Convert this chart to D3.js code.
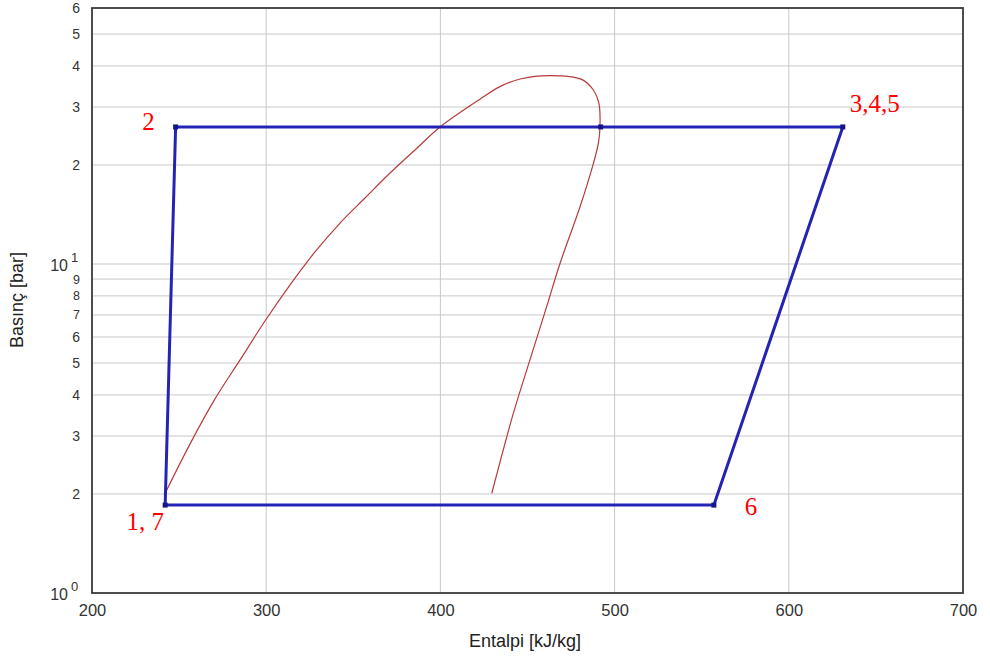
<!DOCTYPE html>
<html>
<head>
<meta charset="utf-8">
<script src="https://cdn.jsdelivr.net/npm/d3@7"></script>
<style>
  body { margin: 0; background: #fff; }
</style>
</head>
<body>
<script>
"use strict";

// saturation dome (enthalpy kJ/kg, pressure bar)
const domeH = [242, 256.3, 270.6, 285, 299.3, 313.7, 328, 342.4, 356.7, 371.1, 385.4, 399.8, 422.7, 434.2, 445.7, 462.9, 481.1, 487.8, 491, 491.6, 490.7, 487.8, 480.1, 468.7, 461, 451.4, 441.9, 429.5]
const domeP = [2.01, 2.84, 3.89, 5.11, 6.71, 8.64, 10.88, 13.32, 15.87, 18.91, 22.21, 26.09, 31.7, 34.6, 36.5, 37.4, 36.4, 33.8, 30.8, 26.1, 23.3, 20.2, 14.9, 10.05, 7.42, 5.11, 3.52, 2.01]

// refrigeration cycle 1 -> 2 -> 3 -> 6 -> 1
const cycleH = [242, 248, 631, 557, 242]
const cycleP = [1.85, 26.1, 26.1, 1.85, 1.85]
const extraH = [492]
const extraP = [26.1]

const stateNames = ["1, 7", "2", "3,4,5", "6"]
const stateH = [242, 248, 631, 557]
const stateP = [1.85, 26.1, 26.1, 1.85]

const xTicks = [200, 300, 400, 500, 600, 700]
const yTicks = [1, 2, 3, 4, 5, 6, 7, 8, 9, 10, 20, 30, 40, 50, 60]

const m = { width: 990, height: 662, left: 92, right: 27, top: 8, bottom: 69 }
const sans = "'Liberation Sans', Arial, sans-serif"

const svg = d3.select("body").append("svg")
    .attr("width", m.width)
    .attr("height", m.height)
    .style("font-family", sans)

const x = d3.scaleLinear().domain([200, 700]).range([m.left, m.width - m.right])
const y = d3.scaleLog().domain([1, 60]).range([m.height - m.bottom, m.top])

// grid
svg.append("g").selectAll("line")
    .data(xTicks.slice(1, -1))
    .enter().append("line")
    .attr("x1", d => x(d)).attr("x2", d => x(d))
    .attr("y1", y(1)).attr("y2", y(60))
    .attr("stroke", "#c8c8c8")

svg.append("g").selectAll("line")
    .data(yTicks.slice(1, -1))
    .enter().append("line")
    .attr("x1", x(200)).attr("x2", x(700))
    .attr("y1", d => y(d)).attr("y2", d => y(d))
    .attr("stroke", "#c8c8c8")

// axes tick labels
const xAxis = d3.axisBottom(x).tickValues(xTicks).tickSize(0).tickPadding(11)
const gx = svg.append("g")
    .attr("transform", "translate(0," + y(1) + ")")
    .call(xAxis)
gx.select(".domain").remove()
gx.selectAll("text").attr("font-size", 16.5).attr("fill", "#333").style("font-family", sans)

const yAxis = d3.axisLeft(y).tickValues(yTicks).tickSize(0).tickPadding(12)
    .tickFormat(d => (d === 1 || d === 10) ? "" : String(d >= 10 ? d / 10 : d))
const gy = svg.append("g")
    .attr("transform", "translate(" + x(200) + ",0)")
    .call(yAxis)
gy.select(".domain").remove()
gy.selectAll("text")
    .attr("font-size", d => (d >= 7 && d <= 9) ? 12.5 : 14)
    .attr("fill", "#333")
    .style("font-family", sans)

// powers of ten
;[[1, "0"], [10, "1"]].forEach(function(p) {
    svg.append("text")
        .attr("x", x(200) - 24)
        .attr("y", y(p[0]) + 7)
        .attr("text-anchor", "end")
        .attr("font-size", 16)
        .attr("fill", "#333")
        .text("10")
    svg.append("text")
        .attr("x", x(200) - 21)
        .attr("y", y(p[0]) - 2)
        .attr("font-size", 13)
        .attr("fill", "#333")
        .text(p[1])
})

// frame
svg.append("rect")
    .attr("x", x(200)).attr("y", y(60))
    .attr("width", x(700) - x(200)).attr("height", y(1) - y(60))
    .attr("fill", "none")
    .attr("stroke", "#3a3a3a")
    .attr("stroke-width", 1.8)

// axis titles
svg.append("text")
    .attr("x", 525).attr("y", 647)
    .attr("text-anchor", "middle")
    .attr("font-size", 18)
    .attr("fill", "#222")
    .text("Entalpi [kJ/kg]")

svg.append("text")
    .attr("transform", "translate(23," + 300 + ")rotate(-90)")
    .attr("text-anchor", "middle")
    .attr("font-size", 18)
    .attr("fill", "#222")
    .text("Basınç [bar]")

// saturation dome
const dome = domeH.map((h, i) => [h, domeP[i]])
svg.append("path")
    .datum(dome)
    .attr("d", d3.line().x(d => x(d[0])).y(d => y(d[1])).curve(d3.curveCatmullRom.alpha(0.5)))
    .attr("fill", "none")
    .attr("stroke", "#b83a3a")
    .attr("stroke-width", 1.2)

// cycle
const cycle = cycleH.map((h, i) => [h, cycleP[i]])
svg.append("path")
    .datum(cycle)
    .attr("d", d3.line().x(d => x(d[0])).y(d => y(d[1])))
    .attr("fill", "none")
    .attr("stroke", "#2424b4")
    .attr("stroke-width", 3)

const pts = cycle.slice(0, 4).concat(extraH.map((h, i) => [h, extraP[i]]))
svg.append("g").selectAll("rect")
    .data(pts)
    .enter().append("rect")
    .attr("x", d => x(d[0]) - 2.5)
    .attr("y", d => y(d[1]) - 2.5)
    .attr("width", 5).attr("height", 5)
    .attr("fill", "#14148c")

// state labels
const labelShift = [[-20, 25], [-27, 3], [32, -15], [37, 10]]
svg.append("g").selectAll("text")
    .data(stateNames)
    .enter().append("text")
    .attr("x", (d, i) => x(stateH[i]) + labelShift[i][0])
    .attr("y", (d, i) => y(stateP[i]) + labelShift[i][1])
    .attr("text-anchor", "middle")
    .style("font-family", "'Liberation Serif', 'Times New Roman', serif")
    .attr("font-size", 25)
    .attr("fill", "#ff0000")
    .text(d => d)
</script>
</body>
</html>
